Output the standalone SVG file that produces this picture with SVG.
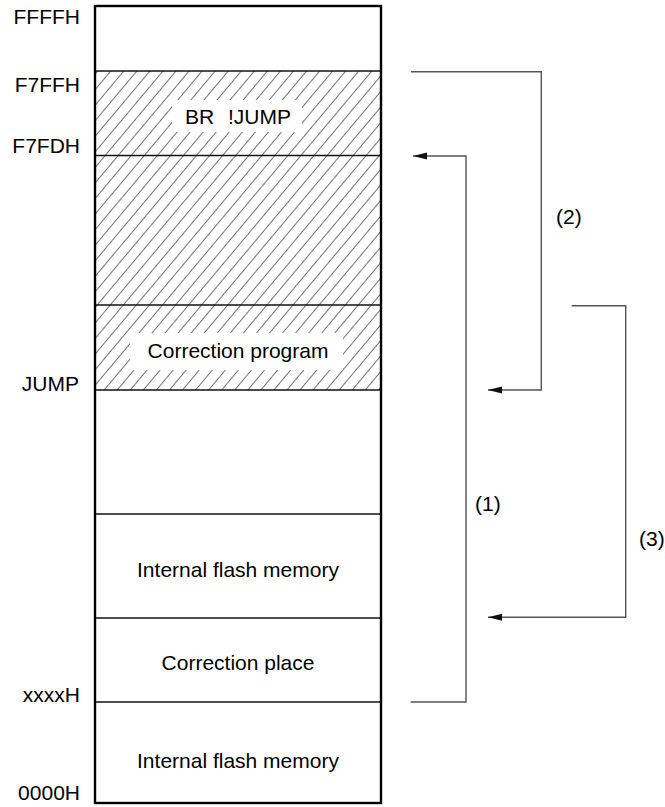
<svg xmlns="http://www.w3.org/2000/svg" width="665" height="807" viewBox="0 0 665 807">
<style>
text{font-family:"Liberation Sans",Arial,sans-serif;font-size:21px;fill:#000}
.addr{text-anchor:end}
.mid{text-anchor:middle}
.div{stroke:#111;stroke-width:1.3;fill:none}
.conn{stroke:#555;stroke-width:1.4;fill:none}
</style>
<defs>
<pattern id="hatch" patternUnits="userSpaceOnUse" width="10" height="10" patternTransform="rotate(40)">
<line x1="0" y1="0" x2="0" y2="10" stroke="#000" stroke-width="1.1"/>
</pattern>
<marker id="arr" markerUnits="userSpaceOnUse" markerWidth="16" markerHeight="8" refX="14" refY="3.5" orient="auto">
<path d="M0,0 L14,3.5 L0,7 Z" fill="#111"/>
</marker>
</defs>
<rect x="0" y="0" width="665" height="807" fill="#fff"/>

<g id="memory-map">
<rect x="95" y="71" width="286" height="319" fill="url(#hatch)"/>
<g id="seg-top"><line class="div" x1="95" y1="71" x2="381" y2="71"/></g>
<g id="seg-br">
<rect x="172" y="100" width="130" height="32" fill="#fff"/>
<text class="mid" x="238" y="124" word-spacing="8">BR !JUMP</text>
<line class="div" x1="95" y1="155.5" x2="381" y2="155.5"/>
</g>
<g id="seg-hatched"><line class="div" x1="95" y1="305" x2="381" y2="305"/></g>
<g id="seg-correction-program">
<rect x="130" y="333" width="213" height="37" fill="#fff"/>
<text class="mid" x="238" y="358">Correction program</text>
<line class="div" x1="95" y1="390" x2="381" y2="390"/>
</g>
<g id="seg-empty"><line class="div" x1="95" y1="514" x2="381" y2="514"/></g>
<g id="seg-flash1">
<text class="mid" x="238" y="577">Internal flash memory</text>
<line class="div" x1="95" y1="618" x2="381" y2="618"/>
</g>
<g id="seg-correction-place">
<text class="mid" x="238" y="670">Correction place</text>
<line class="div" x1="95" y1="702" x2="381" y2="702"/>
</g>
<g id="seg-flash2">
<text class="mid" x="238" y="768">Internal flash memory</text>
</g>
<rect x="95" y="6" width="286" height="797" fill="none" stroke="#000" stroke-width="2.4"/>
</g>

<g id="addresses">
<text class="addr" x="80" y="24">FFFFH</text>
<text class="addr" x="80" y="92">F7FFH</text>
<text class="addr" x="80" y="153">F7FDH</text>
<text class="addr" x="79" y="391">JUMP</text>
<text class="addr" x="80" y="702">xxxxH</text>
<text class="addr" x="80" y="800">0000H</text>
</g>

<g id="connectors">
<polyline class="conn" points="411,71.7 541.3,71.7 541.3,390 488,390" marker-end="url(#arr)"/>
<polyline class="conn" points="410.7,702 466,702 466,156 413,156" marker-end="url(#arr)"/>
<polyline class="conn" points="571.7,305.7 625.7,305.7 625.7,617.3 488,617.3" marker-end="url(#arr)"/>
<text x="556" y="224">(2)</text>
<text x="475" y="511">(1)</text>
<text x="639" y="546">(3)</text>
</g>
</svg>
